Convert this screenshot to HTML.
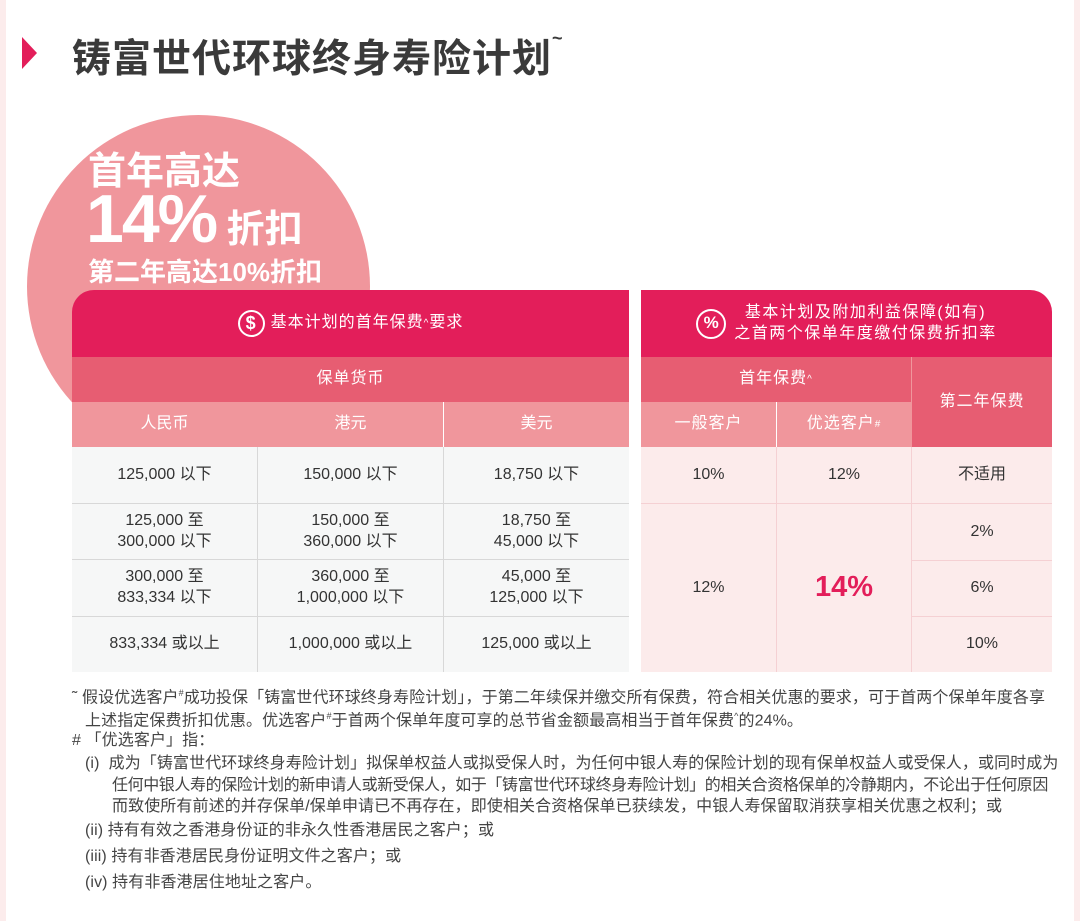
<!DOCTYPE html>
<html><head><meta charset="utf-8"><style>
*{margin:0;padding:0;box-sizing:border-box}
body{width:1080px;height:921px;background:#fff;position:relative;overflow:hidden;font-family:"Liberation Sans","Noto Sans CJK SC",sans-serif;color:#333}
.a{position:absolute}
.c{position:absolute;display:flex;align-items:center;justify-content:center;text-align:center;line-height:1.3}
.fn{position:absolute;font-size:16px;color:#444;white-space:nowrap;line-height:20px;letter-spacing:0.1px}
</style></head><body>
<div class="a" style="left:0;top:0;width:6px;height:921px;background:#fcecec"></div>
<div class="a" style="left:1074px;top:0;width:6px;height:921px;background:#fcecec"></div>
<div class="a" style="left:27px;top:115px;width:343px;height:343px;border-radius:50%;background:#f0969c"></div>
<div class="a" style="left:22px;top:37px;width:0;height:0;border-top:16px solid transparent;border-bottom:16px solid transparent;border-left:15px solid #e31e5a"></div>
<div class="a" style="left:72px;top:28px;font-size:39px;font-weight:bold;color:#3a3a3a;letter-spacing:1px;white-space:nowrap">铸富世代环球终身寿险计划<span style="font-size:18px;vertical-align:top">~</span></div>
<div class="a" style="left:88px;top:140px;font-size:38px;font-weight:bold;color:#fff;white-space:nowrap">首年高达</div>
<div class="a" style="left:86px;top:180px;font-size:68px;font-weight:bold;color:#fff;white-space:nowrap;letter-spacing:-2px">14%<span style="font-size:38px;letter-spacing:0"> 折扣</span></div>
<div class="a" style="left:88px;top:252px;font-size:26px;font-weight:bold;color:#fff;white-space:nowrap">第二年高达10%折扣</div>

<!-- left table -->
<div class="a" style="left:72px;top:290px;width:557px;height:67px;background:#e31e5a;border-radius:22px 0 0 0"></div>
<div class="c" style="left:72px;top:290px;width:557px;height:67px;color:#fff;font-size:16px;letter-spacing:1px"><span style="display:inline-flex;width:27px;height:27px;border:2px solid #fff;border-radius:50%;align-items:center;justify-content:center;font-weight:bold;font-size:18px;margin-right:6px">$</span>基本计划的首年保费<sup style="font-size:10px">^</sup>要求</div>
<div class="c" style="left:72px;top:357px;width:557px;height:45px;background:#e75d72;color:#fff;font-size:16px;letter-spacing:1px">保单货币</div>
<div class="c" style="left:72px;top:402px;width:185px;height:45px;background:#f0969c;color:#fff;font-size:16px">人民币</div>
<div class="c" style="left:258px;top:402px;width:185px;height:45px;background:#f0969c;color:#fff;font-size:16px">港元</div>
<div class="c" style="left:444px;top:402px;width:185px;height:45px;background:#f0969c;color:#fff;font-size:16px">美元</div>
<div class="a" style="left:72px;top:447px;width:557px;height:225px;background:#f6f7f7"></div>
<div class="a" style="left:257px;top:447px;width:1px;height:225px;background:#d8d8d8"></div>
<div class="a" style="left:443px;top:447px;width:1px;height:225px;background:#d8d8d8"></div>
<div class="a" style="left:72px;top:503px;width:557px;height:1px;background:#d8d8d8"></div>
<div class="a" style="left:72px;top:559px;width:557px;height:1px;background:#d8d8d8"></div>
<div class="a" style="left:72px;top:616px;width:557px;height:1px;background:#d8d8d8"></div>
<div class="c" style="left:72px;top:447px;width:185px;height:56px;font-size:16px">125,000 以下</div>
<div class="c" style="left:258px;top:447px;width:185px;height:56px;font-size:16px">150,000 以下</div>
<div class="c" style="left:444px;top:447px;width:185px;height:56px;font-size:16px">18,750 以下</div>
<div class="c" style="left:72px;top:504px;width:185px;height:56px;font-size:16px">125,000 至<br>300,000 以下</div>
<div class="c" style="left:258px;top:504px;width:185px;height:56px;font-size:16px">150,000 至<br>360,000 以下</div>
<div class="c" style="left:444px;top:504px;width:185px;height:56px;font-size:16px">18,750 至<br>45,000 以下</div>
<div class="c" style="left:72px;top:560px;width:185px;height:56px;font-size:16px">300,000 至<br>833,334 以下</div>
<div class="c" style="left:258px;top:560px;width:185px;height:56px;font-size:16px">360,000 至<br>1,000,000 以下</div>
<div class="c" style="left:444px;top:560px;width:185px;height:56px;font-size:16px">45,000 至<br>125,000 以下</div>
<div class="c" style="left:72px;top:617px;width:185px;height:55px;font-size:16px">833,334 或以上</div>
<div class="c" style="left:258px;top:617px;width:185px;height:55px;font-size:16px">1,000,000 或以上</div>
<div class="c" style="left:444px;top:617px;width:185px;height:55px;font-size:16px">125,000 或以上</div>

<!-- right table -->
<div class="a" style="left:641px;top:290px;width:411px;height:67px;background:#e31e5a;border-radius:0 22px 0 0"></div>
<div class="c" style="left:641px;top:290px;width:411px;height:67px;color:#fff;font-size:16px;letter-spacing:1.5px"><span style="display:inline-flex;width:30px;height:30px;border:2px solid #fff;border-radius:50%;align-items:center;justify-content:center;font-weight:bold;font-size:17px;margin-right:8px;letter-spacing:0">%</span><span>基本计划及附加利益保障(如有)<br>之首两个保单年度缴付保费折扣率</span></div>
<div class="c" style="left:641px;top:357px;width:270px;height:45px;background:#e75d72;color:#fff;font-size:16px;letter-spacing:1px">首年保费<sup style="font-size:10px">^</sup></div>
<div class="c" style="left:911px;top:357px;width:141px;height:90px;background:#e75d72;color:#fff;font-size:16px;border-left:1px solid #f0969c;letter-spacing:1px">第二年保费</div>
<div class="c" style="left:641px;top:402px;width:135px;height:45px;background:#f0969c;color:#fff;font-size:16px;letter-spacing:1px">一般客户</div>
<div class="c" style="left:777px;top:402px;width:134px;height:45px;background:#f0969c;color:#fff;font-size:16px;letter-spacing:1px">优选客户<sup style="font-size:10px">#</sup></div>
<div class="a" style="left:641px;top:447px;width:411px;height:225px;background:#fcebeb"></div>
<div class="a" style="left:776px;top:447px;width:1px;height:225px;background:#f5d0d3"></div>
<div class="a" style="left:911px;top:447px;width:1px;height:225px;background:#f5d0d3"></div>
<div class="a" style="left:641px;top:503px;width:411px;height:1px;background:#f5d0d3"></div>
<div class="a" style="left:911px;top:560px;width:141px;height:1px;background:#f5d0d3"></div>
<div class="a" style="left:911px;top:616px;width:141px;height:1px;background:#f5d0d3"></div>
<div class="c" style="left:641px;top:447px;width:135px;height:56px;font-size:16px">10%</div>
<div class="c" style="left:777px;top:447px;width:134px;height:56px;font-size:16px">12%</div>
<div class="c" style="left:912px;top:447px;width:140px;height:56px;font-size:16px">不适用</div>
<div class="c" style="left:641px;top:504px;width:135px;height:168px;font-size:16px">12%</div>
<div class="c" style="left:777px;top:504px;width:134px;height:168px;font-size:29px;font-weight:bold;color:#e31e5a">14%</div>
<div class="c" style="left:912px;top:504px;width:140px;height:56px;font-size:16px">2%</div>
<div class="c" style="left:912px;top:561px;width:140px;height:55px;font-size:16px">6%</div>
<div class="c" style="left:912px;top:617px;width:140px;height:55px;font-size:16px">10%</div>

<!-- footnotes -->
<div class="fn" style="left:72px;top:683px">˜ 假设优选客户<sup style="font-size:9px">#</sup>成功投保「铸富世代环球终身寿险计划」，于第二年续保并缴交所有保费，符合相关优惠的要求，可于首两个保单年度各享</div>
<div class="fn" style="left:85px;top:706px">上述指定保费折扣优惠。优选客户<sup style="font-size:9px">#</sup>于首两个保单年度可享的总节省金额最高相当于首年保费<sup style="font-size:9px">^</sup>的24%。</div>
<div class="fn" style="left:72px;top:731px"># 「优选客户」指：</div>
<div class="fn" style="left:85px;top:754px">(i) &nbsp;成为「铸富世代环球终身寿险计划」拟保单权益人或拟受保人时，为任何中银人寿的保险计划的现有保单权益人或受保人，或同时成为</div>
<div class="fn" style="left:112px;top:776px;letter-spacing:-0.4px">任何中银人寿的保险计划的新申请人或新受保人，如于「铸富世代环球终身寿险计划」的相关合资格保单的冷静期内，不论出于任何原因</div>
<div class="fn" style="left:112px;top:797px">而致使所有前述的并存保单/保单申请已不再存在，即使相关合资格保单已获续发，中银人寿保留取消获享相关优惠之权利；或</div>
<div class="fn" style="left:85px;top:821px">(ii) 持有有效之香港身份证的非永久性香港居民之客户；或</div>
<div class="fn" style="left:85px;top:847px">(iii) 持有非香港居民身份证明文件之客户；或</div>
<div class="fn" style="left:85px;top:873px">(iv) 持有非香港居住地址之客户。</div>
</body></html>
